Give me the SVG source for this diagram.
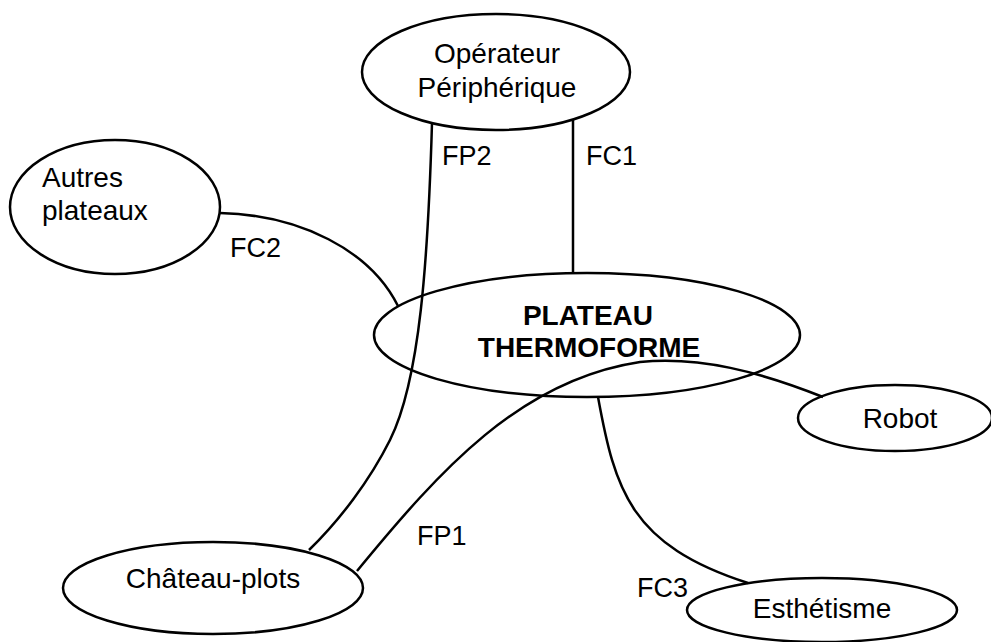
<svg xmlns="http://www.w3.org/2000/svg" width="991" height="642" viewBox="0 0 991 642">
<style>
.n{fill:none;stroke:#000;stroke-width:2.5}
.c{fill:none;stroke:#000;stroke-width:2.5}
text{font-family:"Liberation Sans",Arial,sans-serif;font-size:28px;fill:#000}
.m{text-anchor:middle}
.b{font-weight:bold}
.l{font-size:27px}
</style>
<rect width="991" height="642" fill="#fff"/>
<g id="connectors">
<path class="c" d="M432,123 C428,260 420,380 390,440 C370,480 340,520 309,550"/>
<path class="c" d="M573,120 L573,273"/>
<path class="c" d="M220,213 C300,215 370,250 398,306"/>
<path class="c" d="M357,571 C440,470 520,380 640,362 C700,356 760,372 823,397"/>
<path class="c" d="M598,397 C615,490 630,545 748,583"/>
<text class="l" x="442" y="165">FP2</text>
<text class="l" x="586" y="165">FC1</text>
<text class="l" x="230" y="257">FC2</text>
<text class="l" x="417" y="545">FP1</text>
<text class="l" x="637" y="597">FC3</text>
</g>
<g id="operateur">
<ellipse class="n" cx="496" cy="72" rx="134" ry="58"/>
<text class="m" x="497" y="63">Opérateur</text>
<text class="m" x="497" y="97">Périphérique</text>
</g>
<g id="autres">
<ellipse class="n" cx="115" cy="207" rx="105" ry="67"/>
<text x="42" y="187">Autres</text>
<text x="42" y="220">plateaux</text>
</g>
<g id="plateau">
<ellipse class="n" cx="587" cy="335" rx="213" ry="62"/>
<text class="m b" x="588" y="325">PLATEAU</text>
<text class="m b" x="589" y="357">THERMOFORME</text>
</g>
<g id="robot">
<ellipse class="n" cx="895" cy="418" rx="97" ry="33"/>
<text class="m" x="900" y="428">Robot</text>
</g>
<g id="chateau">
<ellipse class="n" cx="213" cy="588" rx="150" ry="46"/>
<text class="m" x="213" y="588">Château-plots</text>
</g>
<g id="esthetisme">
<ellipse class="n" cx="822" cy="610" rx="135" ry="32"/>
<text class="m" x="822" y="618">Esthétisme</text>
</g>
</svg>
